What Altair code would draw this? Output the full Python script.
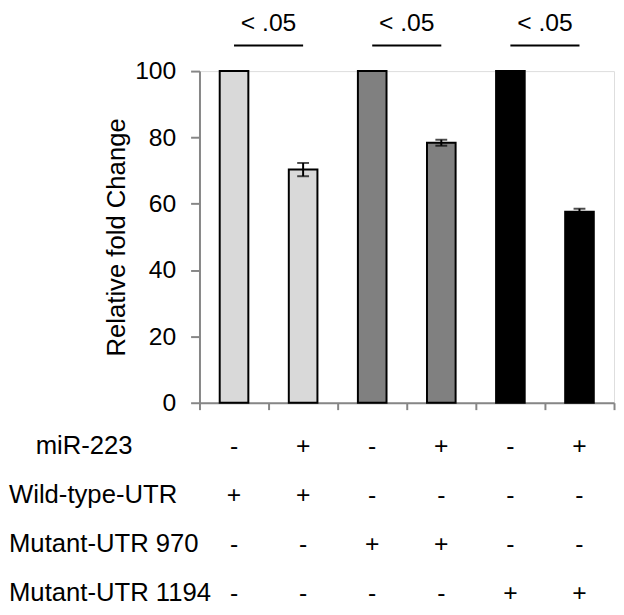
import altair as alt
import pandas as pd

# ---------------- data ----------------
conditions = ["c1", "c2", "c3", "c4", "c5", "c6"]
groups = ["Wild-type-UTR", "Wild-type-UTR", "Mutant-UTR 970", "Mutant-UTR 970",
          "Mutant-UTR 1194", "Mutant-UTR 1194"]
fold_change = [100, 70.3, 100, 78.4, 100, 57.6]
error = [0, 2.0, 0, 0.9, 0, 0.9]

group_names = ["Wild-type-UTR", "Mutant-UTR 970", "Mutant-UTR 1194"]
group_colors = ["#d9d9d9", "#808080", "#000000"]

row_labels = ["miR-223", "Wild-type-UTR", "Mutant-UTR 970", "Mutant-UTR 1194"]
mir223 = ["-", "+", "-", "+", "-", "+"]
wild_type = ["+", "+", "-", "-", "-", "-"]
mut970 = ["-", "-", "+", "+", "-", "-"]
mut1194 = ["-", "-", "-", "-", "+", "+"]

sig_start = ["c1", "c3", "c5"]
sig_end = ["c2", "c4", "c6"]
sig_text = ["< .05", "< .05", "< .05"]

# ---------------- tables ----------------
bars_df = pd.DataFrame({"cond": conditions, "group": groups,
                        "value": fold_change, "err": error})
err_df = bars_df[bars_df["err"] > 0].copy()
err_df["lo"] = err_df["value"] - err_df["err"]
err_df["hi"] = err_df["value"] + err_df["err"]

sig_df = pd.DataFrame({"start": sig_start, "end": sig_end, "label": sig_text})

rows = []
for lab, signs in zip(row_labels, [mir223, wild_type, mut970, mut1194]):
    for c, s in zip(conditions, signs):
        rows.append({"row": lab, "cond": c, "sign": s})
table_df = pd.DataFrame(rows)
labels_df = pd.DataFrame({"row": row_labels})

FONT = "Liberation Sans"
GRAY = "#868686"

x_scale = alt.Scale(domain=conditions, paddingInner=0, paddingOuter=0)
y_scale = alt.Scale(domain=[0, 100], nice=False)

x_enc = alt.X("cond:N", sort=conditions, scale=x_scale,
              axis=alt.Axis(labels=False, title=None, tickBand="extent",
                            domainColor=GRAY, domainWidth=2, tickColor=GRAY,
                            tickWidth=2, tickSize=7, grid=False))

bars = alt.Chart(bars_df).mark_bar(size=29, stroke="black", strokeWidth=2).encode(
    x=x_enc,
    y=alt.Y("value:Q", scale=y_scale,
            axis=alt.Axis(values=[0, 20, 40, 60, 80, 100], grid=False,
                          domainColor=GRAY, domainWidth=2, tickColor=GRAY,
                          tickWidth=2, tickSize=9, labelFontSize=25,
                          labelFont=FONT, labelColor="black", labelPadding=15,
                          title="Relative fold Change", titleFont=FONT,
                          titleFontSize=26, titleFontWeight="normal",
                          titleColor="black", titlePadding=5)),
    color=alt.Color("group:N", scale=alt.Scale(domain=group_names, range=group_colors),
                    legend=None),
)

err_rule = alt.Chart(err_df).mark_rule(color="black", strokeWidth=2).encode(
    x=alt.X("cond:N", sort=conditions, scale=x_scale),
    y=alt.Y("lo:Q", scale=y_scale),
    y2="hi:Q",
)
err_lo = alt.Chart(err_df).mark_tick(color="black", thickness=2, size=12).encode(
    x=alt.X("cond:N", sort=conditions, scale=x_scale),
    y=alt.Y("lo:Q", scale=y_scale),
)
err_hi = alt.Chart(err_df).mark_tick(color="black", thickness=2, size=12).encode(
    x=alt.X("cond:N", sort=conditions, scale=x_scale),
    y=alt.Y("hi:Q", scale=y_scale),
)

sig_rule = alt.Chart(sig_df).mark_rule(color="black", strokeWidth=2).encode(
    x=alt.X("start:N", scale=x_scale),
    x2="end:N",
    y=alt.value(-26),
)
sig_lab = alt.Chart(sig_df).mark_text(font=FONT, fontSize=25, align="center",
                                      baseline="alphabetic", dx=35).encode(
    x=alt.X("start:N", scale=x_scale),
    y=alt.value(-41),
    text="label:N",
)

main = alt.layer(bars, err_rule, err_lo, err_hi, sig_rule, sig_lab)

row_scale = alt.Scale(type="point", domain=row_labels, range=[388, 537], padding=0)

signs = alt.Chart(table_df).mark_text(font=FONT, fontSize=25, align="center",
                                      baseline="alphabetic").encode(
    x=alt.X("cond:N", sort=conditions, scale=x_scale),
    y=alt.Y("row:N", scale=row_scale, axis=None),
    text="sign:N",
)
row_first = alt.Chart(labels_df).transform_filter(
    alt.datum.row == row_labels[0]
).mark_text(font=FONT, fontSize=26, align="left", baseline="alphabetic").encode(
    x=alt.value(-166),
    y=alt.Y("row:N", scale=row_scale, axis=None),
    text="row:N",
)
row_rest = alt.Chart(labels_df).transform_filter(
    alt.datum.row != row_labels[0]
).mark_text(font=FONT, fontSize=26, align="left", baseline="alphabetic").encode(
    x=alt.value(-193),
    y=alt.Y("row:N", scale=row_scale, axis=None),
    text="row:N",
)
table = alt.layer(signs, row_first, row_rest)

chart = alt.layer(main, table).resolve_scale(y="independent").properties(
    width=420,
    height=336,
    autosize=alt.AutoSizeParams(type="none"),
    padding={"left": 194, "top": 60, "right": 2, "bottom": 201},
).configure_view(stroke=None).configure(font=FONT)

chart.save("out.html", embed_options={"renderer": "svg", "actions": False})
